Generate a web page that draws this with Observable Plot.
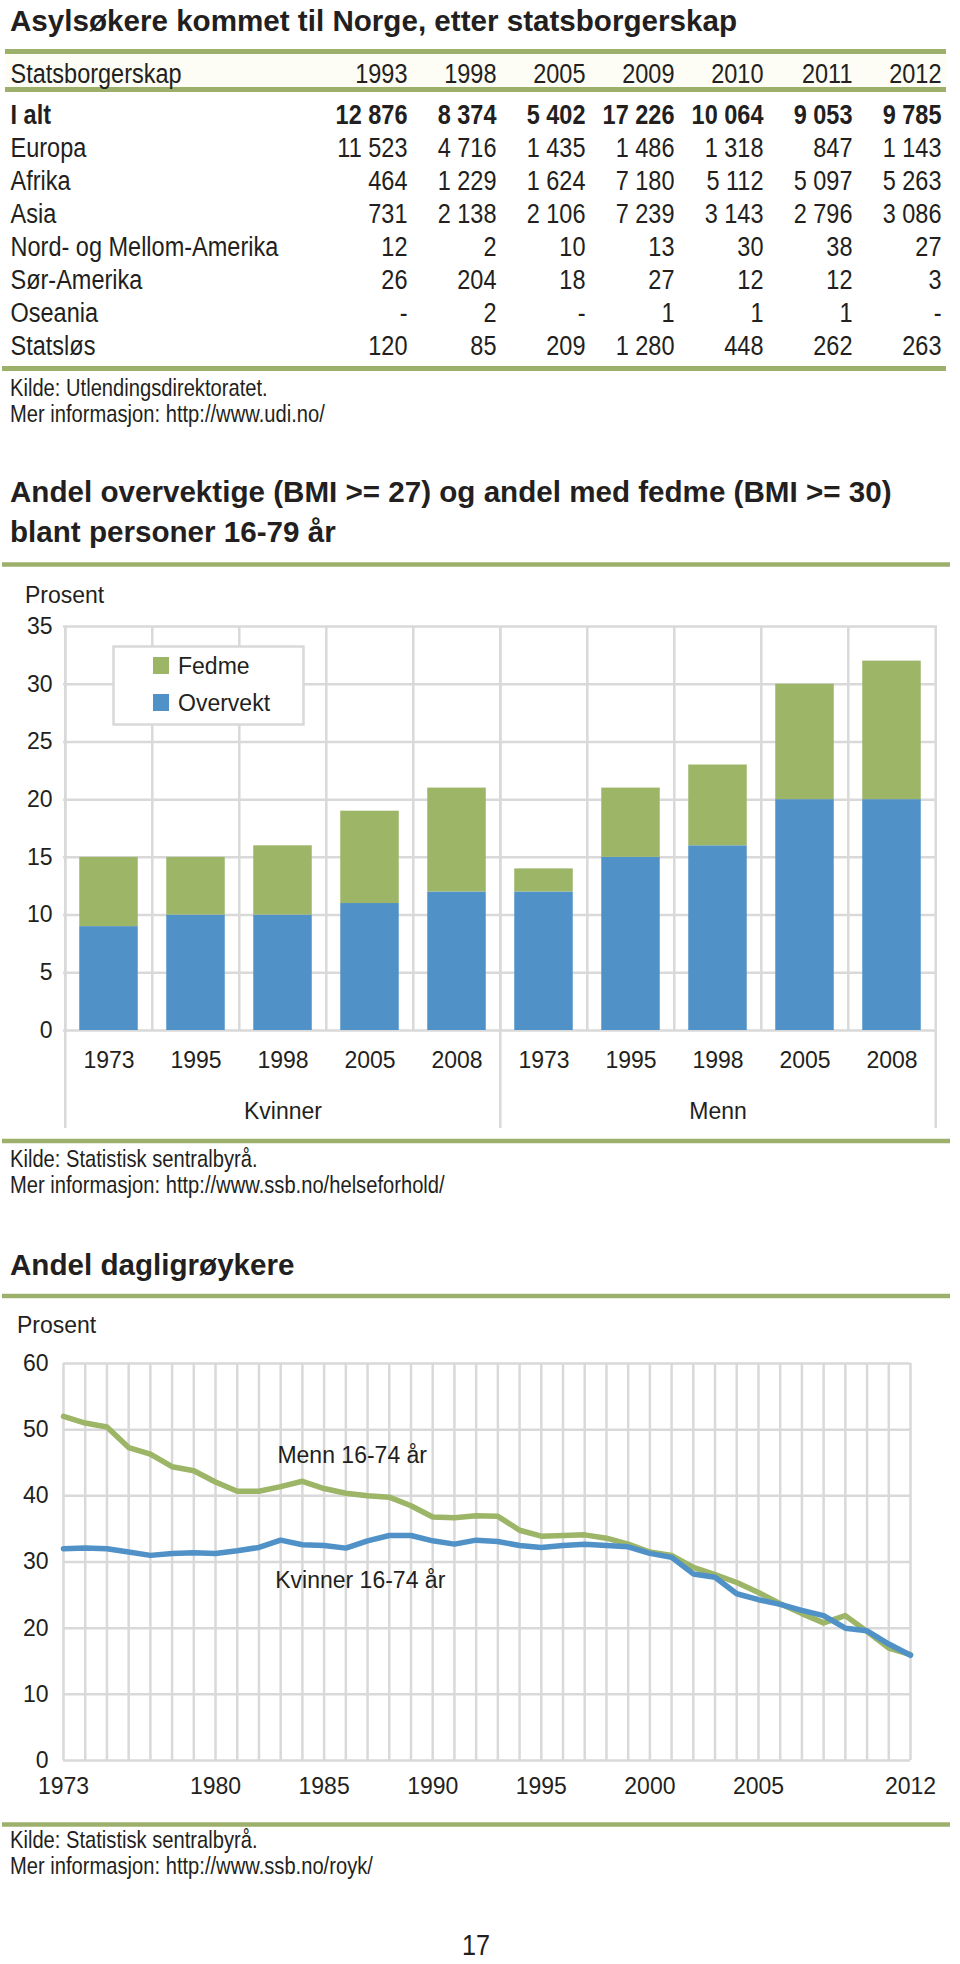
<!DOCTYPE html>
<html><head><meta charset="utf-8">
<script src="https://cdn.jsdelivr.net/npm/d3@7"></script>
<script src="https://cdn.jsdelivr.net/npm/@observablehq/plot@0.6"></script>
<style>
html,body{margin:0;padding:0;background:#fff;}
#page{position:relative;width:960px;height:1964px;overflow:hidden;background:#fff;}
#page > svg{position:absolute;left:0;}
</style></head><body><div id="page"></div>
<script>
// ---------------- DATA ----------------
// Table: Asylsøkere
const tableTitle = "Asylsøkere kommet til Norge, etter statsborgerskap";
const tableHeaderLabel = ["Statsborgerskap"];
const tableYears = [1993, 1998, 2005, 2009, 2010, 2011, 2012];
const tableRows = ["I alt", "Europa", "Afrika", "Asia", "Nord- og Mellom-Amerika", "Sør-Amerika", "Oseania", "Statsløs"];
const iAlt      = [12876, 8374, 5402, 17226, 10064, 9053, 9785];
const europa    = [11523, 4716, 1435, 1486, 1318, 847, 1143];
const afrika    = [464, 1229, 1624, 7180, 5112, 5097, 5263];
const asia      = [731, 2138, 2106, 7239, 3143, 2796, 3086];
const nordMellomAmerika = [12, 2, 10, 13, 30, 38, 27];
const sorAmerika = [26, 204, 18, 27, 12, 12, 3];
const oseania   = [null, 2, null, 1, 1, 1, null];
const statslos  = [120, 85, 209, 1280, 448, 262, 263];
const tableValues = [iAlt, europa, afrika, asia, nordMellomAmerika, sorAmerika, oseania, statslos];
const tableSource = ["Kilde: Utlendingsdirektoratet.", "Mer informasjon: http://www.udi.no/"];

// Bar chart: overvekt / fedme
const barTitle = ["Andel overvektige (BMI >= 27) og andel med fedme (BMI >= 30)", "blant personer 16-79 år"];
const barGroups = ["Kvinner", "Menn"];
const barYears = ["1973", "1995", "1998", "2005", "2008"];
const barSeries = ["Fedme", "Overvekt"];
const barColors = ["#9db567", "#5092c7"];
const overvektKvinner = [9, 10, 10, 11, 12];
const fedmeKvinner    = [6, 5, 6, 8, 9];
const overvektMenn    = [12, 15, 16, 20, 20];
const fedmeMenn       = [2, 6, 7, 10, 12];
const barTicks = [0, 5, 10, 15, 20, 25, 30, 35];
const barSource = ["Kilde: Statistisk sentralbyrå.", "Mer informasjon: http://www.ssb.no/helseforhold/"];

// Line chart: dagligrøykere
const lineTitle = "Andel dagligrøykere";
const smokeYears = d3.range(1973, 2013);
const menn16_74 = [52.0, 51.0, 50.4, 47.3, 46.3, 44.4, 43.8, 42.1, 40.7, 40.7,
                   41.4, 42.2, 41.1, 40.4, 40.0, 39.8, 38.5, 36.8, 36.7, 37.0,
                   36.9, 34.8, 33.9, 34.0, 34.1, 33.6, 32.7, 31.5, 31.0, 29.2,
                   28.1, 26.9, 25.4, 23.7, 22.2, 20.8, 21.9, 19.5, 17.0, 16.0];
const kvinner16_74 = [32.0, 32.1, 32.0, 31.5, 31.0, 31.3, 31.4, 31.3, 31.7, 32.2,
                      33.3, 32.6, 32.5, 32.1, 33.2, 34.0, 34.0, 33.2, 32.7, 33.3,
                      33.1, 32.5, 32.2, 32.5, 32.7, 32.5, 32.3, 31.3, 30.7, 28.2,
                      27.7, 25.2, 24.3, 23.6, 22.7, 21.9, 20.0, 19.6, 17.6, 15.9];
const lineXTicks = [1973, 1980, 1985, 1990, 1995, 2000, 2005, 2012];
const lineYTicks = [0, 10, 20, 30, 40, 50, 60];
const lineLabels = [
  {text: "Menn 16-74 år", year: 1982.85, value: 45.0},
  {text: "Kvinner 16-74 år", year: 1982.75, value: 26.1}
];
const lineSource = ["Kilde: Statistisk sentralbyrå.", "Mer informasjon: http://www.ssb.no/royk/"];
const yLabel = "Prosent";
const pageNumber = "17";

// ---------------- STYLE ----------------
const INK = "#231f20", GRID = "#d9d9d9", RULE = "#9cb06c";
const SANS = "'Liberation Sans', Arial, Helvetica, sans-serif";
function hasFont(name) {
  const c = document.createElement("canvas").getContext("2d");
  const s = "Statsborgerskap mmmiiiWW 0123";
  c.font = "40px monospace"; const a = c.measureText(s).width;
  c.font = `40px "${name}", monospace`; const b = c.measureText(s).width;
  return Math.abs(a - b) > 0.5;
}
const narrowOK = hasFont("Liberation Sans Narrow");
const NARROW = narrowOK ? "'Liberation Sans Narrow', sans-serif" : SANS;
const SQUEEZE = narrowOK ? 1 : 0.84;     // horizontal condensing when no narrow face exists
const TABLE_SIZE = 28;
const SRC_SIZE = 24;
const CHART_SIZE = 23;

function condense(node, s) {
  if (s === 1) return;
  d3.select(node).selectAll("text").each(function () {
    const x = +(this.getAttribute("x") || 0);
    const t = this.getAttribute("transform") || "";
    this.setAttribute("transform", `${t} translate(${x},0) scale(${s},1) translate(${-x},0)`);
  });
}

const page = document.getElementById("page");

// ---------------- OVERLAY (titles, rules, captions) ----------------
const overlay = d3.create("svg").attr("width", 960).attr("height", 1964).style("top", "0px");
overlay.append("rect").attr("x", 5).attr("y", 54).attr("width", 941).attr("height", 33).attr("fill", "#fdfdf5");
const rules = [
  {y: 51.5, x1: 5, x2: 946, w: 5}, {y: 89.5, x1: 5, x2: 946, w: 5}, {y: 368.5, x1: 2, x2: 946, w: 5},
  {y: 564.5, x1: 2, x2: 950, w: 4.5}, {y: 1141, x1: 2, x2: 950, w: 4.5},
  {y: 1296, x1: 2, x2: 950, w: 4.5}, {y: 1824.5, x1: 2, x2: 950, w: 4.5}
];
overlay.selectAll("line.rule").data(rules).join("line")
  .attr("x1", d => d.x1).attr("x2", d => d.x2).attr("y1", d => d.y).attr("y2", d => d.y)
  .attr("stroke", RULE).attr("stroke-width", d => d.w);
const texts = [
  {t: tableTitle, x: 10, y: 31, size: 29.6, weight: 700, font: SANS},
  {t: tableSource[0], x: 10, y: 396, size: SRC_SIZE, font: NARROW, cond: true},
  {t: tableSource[1], x: 10, y: 422, size: SRC_SIZE, font: NARROW, cond: true},
  {t: barTitle[0], x: 10, y: 502, size: 29.6, weight: 700, font: SANS},
  {t: barTitle[1], x: 10, y: 542, size: 29.6, weight: 700, font: SANS},
  {t: yLabel, x: 25, y: 603, size: CHART_SIZE, font: SANS},
  {t: barSource[0], x: 10, y: 1167, size: SRC_SIZE, font: NARROW, cond: true},
  {t: barSource[1], x: 10, y: 1193, size: SRC_SIZE, font: NARROW, cond: true},
  {t: lineTitle, x: 10, y: 1275, size: 29.6, weight: 700, font: SANS},
  {t: yLabel, x: 17, y: 1333, size: CHART_SIZE, font: SANS},
  {t: lineSource[0], x: 10, y: 1848, size: SRC_SIZE, font: NARROW, cond: true},
  {t: lineSource[1], x: 10, y: 1874, size: SRC_SIZE, font: NARROW, cond: true},
  {t: pageNumber, x: 476, y: 1955, size: 30, font: SANS, anchor: "middle", cond: true}
];
overlay.selectAll("text").data(texts).join("text")
  .attr("transform", d => `translate(${d.x},${d.y})` + (d.cond ? ` scale(${SQUEEZE},1)` : ""))
  .attr("fill", INK)
  .attr("font-family", d => d.font).attr("font-size", d => d.size)
  .attr("font-weight", d => d.weight || 400).attr("text-anchor", d => d.anchor || "start")
  .text(d => d.t);
page.append(overlay.node());

function place(svg, top) { svg.style.position = "absolute"; svg.style.left = "0px"; svg.style.top = top + "px"; page.append(svg); }

// ---------------- TABLE (Plot text) ----------------
const fmt = v => v == null ? "-" : v >= 1000 ? Math.floor(v / 1000) + "\u00a0" + String(v % 1000).padStart(3, "0") : String(v);
const cells = tableRows.flatMap((r, i) => tableYears.map((y, j) => ({row: r, year: y, value: tableValues[i][j], bold: i === 0})));
const tablePlot = Plot.plot({
  width: 960, height: 372, marginTop: 0, marginBottom: 0, marginRight: 0, marginLeft: 10,
  style: {background: "none", fontFamily: NARROW, fontSize: TABLE_SIZE + "px", color: INK, overflow: "visible"},
  x: {type: "point", domain: tableYears, range: [405, 942], padding: 0, axis: null},
  y: {type: "point", domain: tableRows, range: [123, 354], padding: 0, axis: null},
  marks: [
    Plot.text(tableHeaderLabel, {text: d => d, frameAnchor: "top-left", dy: 82, textAnchor: "start", lineAnchor: "bottom", fill: INK}),
    Plot.text(tableYears, {x: d => d, text: d => String(d), frameAnchor: "top", dy: 82, textAnchor: "end", lineAnchor: "bottom", fill: INK}),
    Plot.text(tableRows.slice(0, 1), {y: d => d, text: d => d, frameAnchor: "left", textAnchor: "start", lineAnchor: "bottom", fontWeight: 700, fill: INK}),
    Plot.text(tableRows.slice(1), {y: d => d, text: d => d, frameAnchor: "left", textAnchor: "start", lineAnchor: "bottom", fill: INK}),
    Plot.text(cells.filter(d => d.bold), {x: "year", y: "row", text: d => fmt(d.value), textAnchor: "end", lineAnchor: "bottom", fontWeight: 700, fill: INK}),
    Plot.text(cells.filter(d => !d.bold), {x: "year", y: "row", text: d => fmt(d.value), textAnchor: "end", lineAnchor: "bottom", fill: INK})
  ]
});
condense(tablePlot, SQUEEZE);
place(tablePlot, 0);

// ---------------- BAR CHART ----------------
const barKeys = barGroups.flatMap(g => barYears.map(y => g + " " + y));
const overvekt = [...overvektKvinner, ...overvektMenn];
const fedme = [...fedmeKvinner, ...fedmeMenn];
const barData = [
  ...barKeys.map((k, i) => ({key: k, series: "Overvekt", value: overvekt[i]})),
  ...barKeys.map((k, i) => ({key: k, series: "Fedme", value: fedme[i]}))
];
const bML = 63, bMR = 23, bW = 960;
const bw = (bW - bML - bMR) / barKeys.length;
const groupFirst = barGroups.map(g => g + " " + barYears[0]);
const lastKey = [barKeys[barKeys.length - 1]];
const barPlot = Plot.plot({
  width: bW, height: 540, marginTop: 26, marginBottom: 110, marginLeft: bML, marginRight: bMR,
  style: {background: "none", fontFamily: SANS, fontSize: CHART_SIZE + "px", color: INK, overflow: "visible"},
  x: {type: "band", domain: barKeys, padding: 0, tickSize: 0, tickPadding: 21, tickFormat: d => d.split(" ")[1], label: null},
  y: {domain: [0, 35], ticks: barTicks, tickSize: 0, tickPadding: 11, label: null},
  color: {domain: barSeries, range: barColors},
  marks: [
    Plot.ruleY(barTicks, {stroke: GRID, strokeWidth: 2.5}),
    Plot.ruleX(barKeys, {x: d => d, dx: -bw / 2, stroke: GRID, strokeWidth: 2.5}),
    Plot.ruleX(lastKey, {x: d => d, dx: bw / 2, stroke: GRID, strokeWidth: 2.5, insetBottom: -98}),
    Plot.ruleX(groupFirst, {x: d => d, dx: -bw / 2, stroke: GRID, strokeWidth: 2.5, insetBottom: -98}),
    Plot.barY(barData, {x: "key", y: "value", fill: "series", insetLeft: bw * 0.163, insetRight: bw * 0.163}),
    Plot.text(barGroups, {x: g => g + " " + barYears[2], text: g => g, frameAnchor: "bottom", dy: 88, lineAnchor: "bottom", fill: INK})
  ]
});
place(barPlot, 600);

// legend
const legend = d3.create("svg").attr("width", 193).attr("height", 81).style("top", "645px");
legend.append("rect").attr("x", 1.5).attr("y", 1.5).attr("width", 190).attr("height", 78)
  .attr("fill", "#fff").attr("stroke", GRID).attr("stroke-width", 2.5);
const lg = legend.selectAll("g").data(barSeries).join("g").attr("transform", (d, i) => `translate(0,${i * 37})`);
lg.append("rect").attr("x", 41).attr("y", 12).attr("width", 16).attr("height", 17).attr("fill", (d, i) => barColors[i]);
lg.append("text").attr("x", 66).attr("y", 29).attr("font-family", SANS).attr("font-size", CHART_SIZE).attr("fill", INK).text(d => d);
page.append(legend.node());
legend.node().style.left = "112px";

// ---------------- LINE CHART ----------------
const mennData = smokeYears.map((y, i) => ({year: y, value: menn16_74[i]}));
const kvinnerData = smokeYears.map((y, i) => ({year: y, value: kvinner16_74[i]}));
const linePlot = Plot.plot({
  width: 960, height: 480, marginTop: 23, marginBottom: 60, marginLeft: 63, marginRight: 50,
  style: {background: "none", fontFamily: SANS, fontSize: CHART_SIZE + "px", color: INK, overflow: "visible"},
  x: {domain: [1973, 2012], ticks: lineXTicks, tickFormat: d => String(d), tickSize: 0, tickPadding: 17, label: null},
  y: {domain: [0, 60], ticks: lineYTicks, tickSize: 0, tickPadding: 15, label: null},
  marks: [
    Plot.ruleX(smokeYears, {stroke: GRID, strokeWidth: 2.5}),
    Plot.ruleY(lineYTicks, {stroke: GRID, strokeWidth: 2.5}),
    Plot.line(mennData, {x: "year", y: "value", stroke: barColors[0], strokeWidth: 5.5, strokeLinejoin: "round"}),
    Plot.line(kvinnerData, {x: "year", y: "value", stroke: barColors[1], strokeWidth: 5.5, strokeLinejoin: "round"}),
    Plot.text(lineLabels, {x: "year", y: "value", text: "text", textAnchor: "start", lineAnchor: "bottom", fill: INK})
  ]
});
place(linePlot, 1340);
</script></body></html>
